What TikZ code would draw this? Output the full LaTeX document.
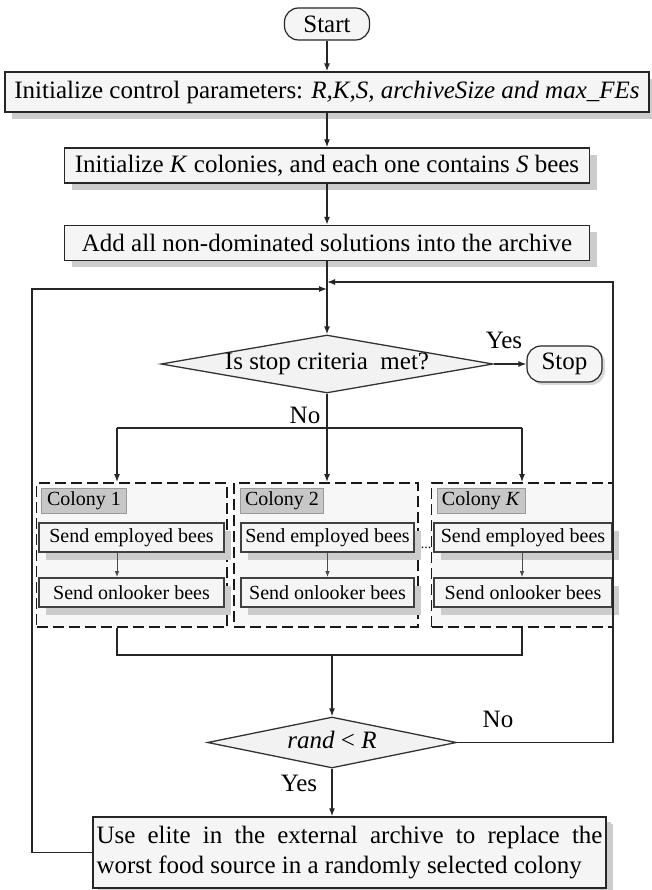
\documentclass[tikz,border=0pt]{standalone}
\usepackage{fontspec}
\setmainfont{Liberation Serif}
\usetikzlibrary{shapes.geometric,shadows,arrows.meta}
\begin{document}
\begin{tikzpicture}[x=1pt,y=-1pt,
  every node/.style={font=\fontsize{25}{30}\selectfont},
  line/.style={line width=1.3pt, draw=black!85},
  arr/.style={line, -{Latex[length=8pt,width=6pt]}},
  smallarr/.style={line width=1pt, draw=black!70, -{Latex[length=6pt,width=4.5pt]}},
  mainbox/.style={draw=black!85, line width=1.4pt, fill=black!4, inner sep=0pt,
    general shadow={fill=black!20, shadow xshift=7pt, shadow yshift=-7pt}},
  term/.style={draw=black!85, line width=1.2pt, fill=black!4, rounded corners=14pt, inner sep=0pt},
  decision/.style={diamond, draw=black!80, line width=1.3pt, fill=black!5, inner sep=0pt,
    text height=13pt, text depth=2pt},
  colbox/.style={draw=black!90, line width=1.8pt, dash pattern=on 11pt off 5pt, fill=black!3, inner sep=0pt},
  collabel/.style={draw=black!40, fill=black!22, inner sep=0pt, font=\fontsize{20}{24}\selectfont},
  beebox/.style={draw=black!75, line width=1.6pt, fill=black!4, inner sep=0pt,
    font=\fontsize{20}{24}\selectfont,
    general shadow={fill=black!20, shadow xshift=7pt, shadow yshift=-8pt}},
  lbl/.style={inner sep=0pt}
]
\useasboundingbox (0,0) rectangle (651,890);

% top column
\node[term, minimum width=85pt, minimum height=32pt] (start) at (327,24) {Start};
\node[mainbox, minimum width=644pt, minimum height=40pt] (n1) at (327,92)
  {Initialize control parameters: \textit{R,K,S, archiveSize and max\_FEs}};
\node[mainbox, minimum width=525pt, minimum height=35pt] (n2) at (327,165.5)
  {Initialize \textit{K} colonies, and each one contains \textit{S} bees};
\node[mainbox, minimum width=525pt, minimum height=35pt] (n3) at (327,243)
  {Add all non-dominated solutions into the archive};
\node[decision, aspect=5.72, minimum width=332pt, minimum height=58pt] (d1) at (327,364)
  {Is stop criteria~ met?};
\node[term, minimum width=75pt, minimum height=36pt,
  general shadow={fill=black!15, shadow xshift=3pt, shadow yshift=-3pt}] (stop) at (564.5,364) {Stop};
\node[lbl] (yes1) at (504,340) {Yes};
\node[lbl] (no1) at (305,415) {No};

\draw[arr] (start) -- (n1);
\draw[arr] (n1) -- (n2);
\draw[arr] (n2) -- (n3);
\draw[arr] (n3) -- (d1);
\draw[arr] (d1.east) -- (stop.west);

% colonies
\coordinate (split) at (327,428);
\coordinate (x1) at (117,428);
\coordinate (xK) at (522,428);
\node[colbox, minimum width=190.5pt, minimum height=144pt] (c1) at (131.75,555) {};
\node[colbox, minimum width=184pt, minimum height=144pt] (c2) at (326,555) {};
\node[colbox, minimum width=181.5pt, minimum height=144pt] (cK) at (522.25,555) {};

\node[collabel, minimum width=85pt, minimum height=25pt] (l1) at (84,500.5) {Colony 1};
\node[collabel, minimum width=83pt, minimum height=25pt] (l2) at (282,500.5) {Colony 2};
\node[collabel, minimum width=88pt, minimum height=25pt] (lK) at (481,500.5) {Colony \textit{K}};

\node[beebox, minimum width=185pt, minimum height=29pt] (e1) at (131.5,537.5) {Send employed bees};
\node[beebox, minimum width=173pt, minimum height=29pt] (e2) at (327.5,537.5) {Send employed bees};
\node[beebox, minimum width=178pt, minimum height=29pt] (eK) at (523,537.5) {Send employed bees};
\node[beebox, minimum width=185pt, minimum height=29pt] (o1) at (131.5,592.5) {Send onlooker bees};
\node[beebox, minimum width=173pt, minimum height=29pt] (o2) at (327.5,592.5) {Send onlooker bees};
\node[beebox, minimum width=178pt, minimum height=29pt] (oK) at (523,592.5) {Send onlooker bees};
\node[lbl, font=\fontsize{14}{14}\selectfont] (dots) at (426,548) {...};

\draw[smallarr] (x1 |- e1.south) -- (x1 |- o1.north);
\draw[smallarr] (e2.south) -- (o2.north);
\draw[smallarr] (xK |- eK.south) -- (xK |- oK.north);

\draw[line] (d1.south) -- (split);
\draw[line] (x1) -- (xK);
\draw[arr] (x1) -- (x1 |- c1.north);
\draw[arr] (split) -- (split |- c2.north);
\draw[arr] (xK) -- (xK |- cK.north);

% merge and second decision
\coordinate (merge) at (332,655);
\draw[line] (x1 |- c1.south) -- (x1 |- merge) -- (xK |- merge) -- (xK |- cK.south);
\node[decision, aspect=4.88, minimum width=249pt, minimum height=51pt] (d2) at (332,742.5)
  {\textit{rand} < \textit{R}};
\draw[arr] (merge) -- (d2.north);
\node[lbl] (no2) at (498,719) {No};
\node[lbl] (yes2) at (299,783) {Yes};

\node[mainbox, general shadow={fill=black!20, shadow xshift=5pt, shadow yshift=-5pt},
  minimum width=513pt, minimum height=71pt, text width=506pt, align=justify] (bot) at (349.5,852.5)
  {Use elite in the external archive to replace the\linebreak worst food source in a randomly selected colony};
\draw[arr] (d2.south) -- (d2.south |- bot.north);

% loops
\coordinate (rtop) at (613,282);
\coordinate (jr) at (327,282);
\coordinate (ltop) at (32,289);
\coordinate (jl) at (327,289);
\draw[arr] (d2.east) -- (d2.east -| rtop) -- (rtop) -- (jr);
\draw[arr] (bot.west) -- (bot.west -| ltop) -- (ltop) -- (jl);
\end{tikzpicture}
\end{document}
